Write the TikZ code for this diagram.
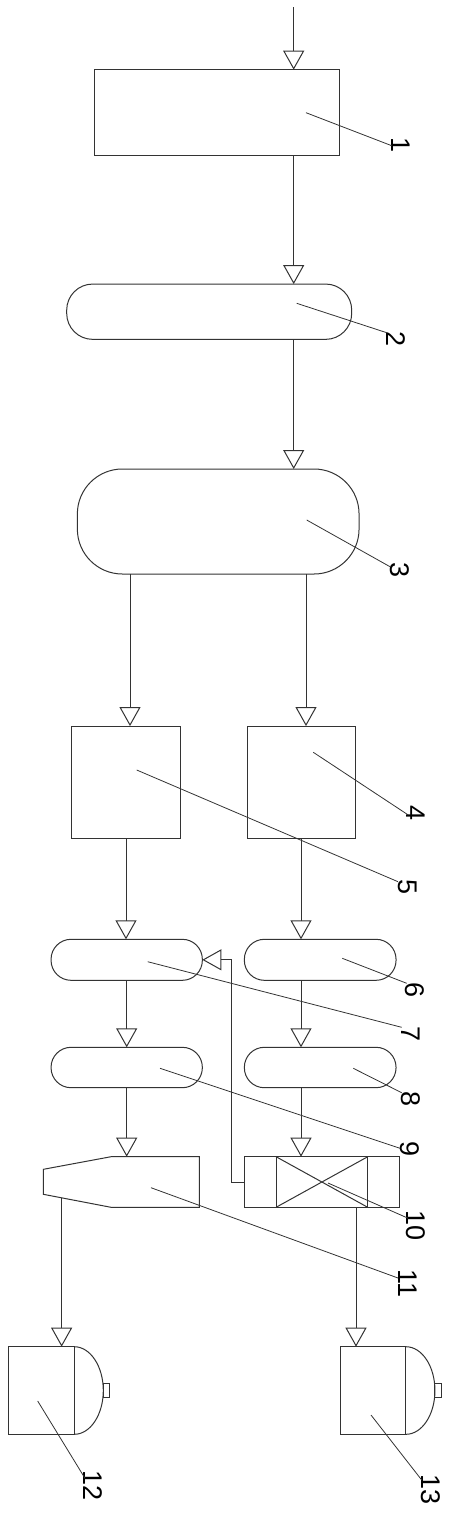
\documentclass[tikz,border=0pt]{standalone}
\usepackage{fontspec}
\setmainfont{Liberation Sans}
\usetikzlibrary{arrows.meta,calc}

\begin{document}
\begin{tikzpicture}[
    x=1pt, y=-1pt,
    color=black!80,
    line width=1pt,
    unit/.style={rectangle, draw, inner sep=0pt, outer sep=0pt},
    tank/.style={unit, rounded corners=#1},
    flow/.style={-{Triangle[open, length=19pt, width=21pt]}},
    lead/.style={line width=0.8pt},
    num/.style={rotate=-90, anchor=base west, inner sep=0pt, text=black, font=\fontsize{27}{30}\selectfont}
]
\useasboundingbox (0,0) rectangle (450,1513);

% vessels and units
\node[unit, minimum width=245pt, minimum height=85.6pt] (n1) at (217.2,112.5) {};
\node[tank=26pt, minimum width=285pt, minimum height=55.3pt] (n2) at (209.2,311.7) {};
\node[tank=45pt, minimum width=281.7pt, minimum height=105pt] (n3) at (218.2,521.5) {};
\node[unit, minimum width=108.6pt, minimum height=112.3pt] (n5) at (126,782.2) {};
\node[unit, minimum width=108pt, minimum height=112.3pt] (n4) at (301,782.2) {};
\node[tank=20pt, minimum width=151.3pt, minimum height=41pt] (n7) at (126.7,959.8) {};
\node[tank=20pt, minimum width=151.7pt, minimum height=41pt] (n6) at (320.2,959.8) {};
\node[tank=20pt, minimum width=151.3pt, minimum height=40.4pt] (n9) at (126.7,1067.5) {};
\node[tank=20pt, minimum width=151.7pt, minimum height=40.4pt] (n8) at (320.2,1067.5) {};
\node[inner sep=0pt, outer sep=0pt, minimum width=88.3pt, minimum height=50.6pt] (n11) at (155.2,1182) {};
\node[unit, minimum width=154.7pt, minimum height=50.6pt] (n10) at (321.7,1182) {};
\node[unit, minimum width=66pt, minimum height=87.6pt] (n12) at (41.3,1390.5) {};
\node[unit, minimum width=65.3pt, minimum height=87.6pt] (n13) at (373.3,1390.5) {};

% tapered unit 11
\draw (n11.south west) -- (n11.south east) -- (n11.north east) -- (n11.north west)
    -- ++(-67.7,12.6) coordinate (c11a) -- ++(0,25) coordinate (c11b) -- cycle;
\coordinate (c11out) at ($(c11b)!0.27!(n11.south west)$);

% unit 10 inner frame and cross
\draw ([xshift=31.7pt]n10.north west) coordinate (k1) -- ([xshift=31.7pt]n10.south west) coordinate (k2);
\draw ([xshift=-31.3pt]n10.north east) coordinate (k3) -- ([xshift=-31.3pt]n10.south east) coordinate (k4);
\draw (k1) -- (k4) (k2) -- (k3);

% drums 12 and 13
\draw (n12.north east) arc[start angle=-90, end angle=90, x radius=29, y radius=43.8];
\draw (n12.east) ++(29,-7) rectangle ++(6.5,14);
\draw (n13.north east) arc[start angle=-90, end angle=90, x radius=29, y radius=43.8];
\draw (n13.east) ++(29,-7) rectangle ++(6.5,14);

% flow lines
\coordinate (feed) at (293.7,7);
\coordinate (d5) at ([xshift=4pt]n5.north);
\coordinate (d4) at ([xshift=5pt]n4.north);
\coordinate (d13) at ([xshift=-17.3pt]n13.north);
\draw[flow] (feed) -- (feed |- n1.north);
\draw[flow] (feed |- n1.south) -- (feed |- n2.north);
\draw[flow] (feed |- n2.south) -- (feed |- n3.north);
\draw[flow] (d5 |- n3.south) -- (d5);
\draw[flow] (d4 |- n3.south) -- (d4);
\draw[flow] (n5.south) -- (n5.south |- n7.north);
\draw[flow] (n4.south) -- (n4.south |- n6.north);
\draw[flow] (n7.south) -- (n9.north);
\draw[flow] (n4.south |- n6.south) -- (n4.south |- n8.north);
\draw[flow] (n9.south) -- (n9.south |- n11.north);
\draw[flow] (n4.south |- n8.south) -- (n4.south |- n10.north);
\draw[flow] (c11out) -- (c11out |- n12.north);
\draw[flow] (d13 |- n10.south) -- (d13);
\draw[flow] (n10.west) -- ++(-12.6,0) |- (n7.east);

% reference numbers
\node[num] (l1) at (391.7,137.2) {1};
\node[num] (l2) at (386.7,330.5) {2};
\node[num] (l3) at (390,562) {3};
\node[num] (l4) at (406,805) {4};
\node[num] (l5) at (398,879) {5};
\node[num] (l6) at (405,982) {6};
\node[num] (l7) at (401.7,1026) {7};
\node[num] (l8) at (401.7,1091) {8};
\node[num] (l9) at (400,1141) {9};
\node[num] (l10) at (406.7,1210) {10};
\node[num] (l11) at (398,1268.5) {11};
\node[num] (l12) at (83,1470) {12};
\node[num] (l13) at (421,1474) {13};

\draw[lead] (n1) ++(88.8,0.2) -- ([yshift=-8.5pt]l1.base west);
\draw[lead] (n2) ++(87.5,-8.4) -- ([yshift=-2.2pt]l2.base west);
\draw[lead] (n3) ++(88.5,-1.5) -- ([yshift=-4.7pt]l3.base west);
\draw[lead] (n4) ++(12.3,-29.9) -- ([xshift=2.3pt,yshift=-10pt]l4.base west);
\draw[lead] (n5) ++(10.7,-12.2) -- ([yshift=-2.7pt]l5.base west);
\draw[lead] (n6) ++(22.1,-1.5) -- ([xshift=1.7pt,yshift=-1.3pt]l6.base west);
\draw[lead] (n7) ++(21,1.9) -- ([yshift=-1.3pt]l7.base west);
\draw[lead] (n8) ++(33.1,0.8) -- ([yshift=-1.7pt]l8.base west);
\draw[lead] (n9) ++(33.3,0.8) -- ([yshift=-7.3pt]l9.base west);
\draw[lead] (n10) ++(6.3,1) -- ([xshift=1.6pt,yshift=-8.3pt]l10.base west);
\draw[lead] (n11) ++(-4.2,5.7) -- ([yshift=-9.5pt]l11.base west);
\draw[lead] (n12) ++(-3.6,10.5) -- ([xshift=2pt,yshift=-8.3pt]l12.base west);
\draw[lead] (n13) ++(-2.3,24.5) -- ([xshift=0.7pt,yshift=-6pt]l13.base west);
\end{tikzpicture}
\end{document}
